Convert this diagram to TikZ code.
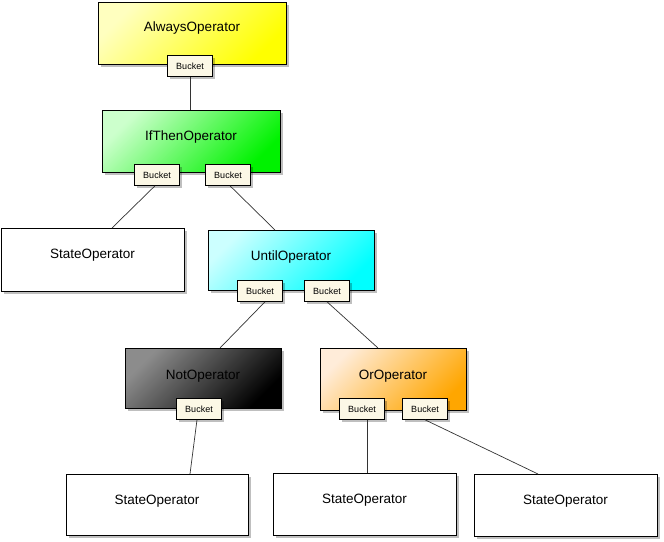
\documentclass[tikz,border=0pt]{standalone}
\usepackage{fontspec}
\setmainfont{Liberation Sans}
\usetikzlibrary{shadows,calc}
\definecolor{bucketfill}{HTML}{FCF8E6}
\tikzset{
  opbox/.style={draw=black, line width=0.9pt, rectangle, inner sep=0pt,
    drop shadow={shadow xshift=3pt, shadow yshift=-3pt, fill=black, opacity=0.25}},
  optext/.style={font=\fontsize{13.5}{16}\selectfont, text=black},
  bucket/.style={draw=black, line width=0.6pt, rectangle, fill=bucketfill, inner sep=0pt,
    minimum width=45pt, minimum height=21pt, font=\fontsize{9}{10}\selectfont,
    drop shadow={shadow xshift=2pt, shadow yshift=-2pt, fill=black, opacity=0.25}},
  conn/.style={draw=black!80, line width=0.7pt}
}
\begin{document}
\begin{tikzpicture}[x=1pt,y=-1pt]
\useasboundingbox (0,0) rectangle (664,541);
\fill[white] (0,0) rectangle (664,541);

% operator boxes
\node[opbox, minimum width=188pt, minimum height=62pt,
  top color=yellow!25!white, bottom color=yellow, shading angle=45,
  label={[optext, yshift=5pt]center:AlwaysOperator}] (always) at (192,33) {};
\node[opbox, minimum width=178pt, minimum height=62pt,
  top color=green!20!white, bottom color=green!95!black, shading angle=45,
  label={[optext, yshift=4pt]center:IfThenOperator}] (ifthen) at (191,141) {};
\node[opbox, fill=white, minimum width=183pt, minimum height=63pt,
  label={[optext, yshift=4pt]center:StateOperator}] (s1) at (92.5,259.5) {};
\node[opbox, minimum width=166pt, minimum height=60pt,
  top color=cyan!20!white, bottom color=cyan, shading angle=45,
  label={[optext, yshift=3pt]center:UntilOperator}] (until) at (291,260) {};
\node[opbox, minimum width=156pt, minimum height=60pt,
  top color=black!45, bottom color=black, shading angle=45,
  label={[optext, yshift=2pt]center:NotOperator}] (not) at (203,378) {};
\node[opbox, minimum width=146pt, minimum height=62pt,
  top color=orange!15!white, bottom color=orange!70!yellow, shading angle=45,
  label={[optext, yshift=3pt]center:OrOperator}] (or) at (393,379) {};
\node[opbox, fill=white, minimum width=182pt, minimum height=61pt,
  label={[optext, yshift=3pt]center:StateOperator}] (s2) at (157,504.5) {};
\node[opbox, fill=white, minimum width=183pt, minimum height=62pt,
  label={[optext, yshift=4pt]center:StateOperator}] (s3) at (364.5,504) {};
\node[opbox, fill=white, minimum width=183pt, minimum height=62pt,
  label={[optext, yshift=4pt]center:StateOperator}] (s4) at (565.5,505) {};

% connector end points on the boxes' upper edges
\coordinate (c1) at (112,228);
\coordinate (c2) at (275,230);
\coordinate (c3) at (220,348);
\coordinate (c4) at (378,348);
\coordinate (c5) at (190,474);
\coordinate (c6) at (367,473);
\coordinate (c7) at (538,474);

% buckets
\node[bucket] (b0) at (190,66) {Bucket};
\node[bucket] (b1) at (157,175) {Bucket};
\node[bucket] (b2) at (228,175) {Bucket};
\node[bucket] (b3) at (260,291) {Bucket};
\node[bucket] (b4) at (327,291) {Bucket};
\node[bucket] (b5) at (199,409) {Bucket};
\node[bucket] (b6) at (362,409) {Bucket};
\node[bucket] (b7) at (425,409) {Bucket};

\draw[conn] (b0.south) -- (ifthen.north -| b0.south);
\draw[conn] ($(b1.south)+(-2,0)$) -- (c1);
\draw[conn] ($(b2.south)+(2,0)$) -- (c2);
\draw[conn] ($(b3.south)+(5,0)$) -- (c3);
\draw[conn] (b4.south) -- (c4);
\draw[conn] ($(b5.south)+(-2,0)$) -- (c5);
\draw[conn] ($(b6.south)+(5,0)$) -- (c6);
\draw[conn] (b7.south) -- (c7);
\end{tikzpicture}
\end{document}
